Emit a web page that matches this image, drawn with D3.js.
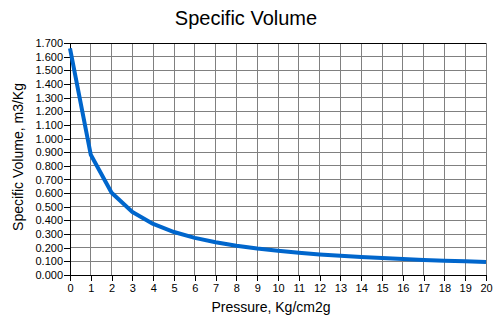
<!DOCTYPE html>
<html><head><meta charset="utf-8">
<script src="https://cdn.jsdelivr.net/npm/d3@7"></script>
<style>body{margin:0;background:#fff}svg{display:block}</style>
</head><body>
<script>
const pressures = [0,1,2,3,4,5,6,7,8,9,10,11,12,13,14,15,16,17,18,19,20];
const specificVolume = [1.660,0.881,0.603,0.461,0.374,0.315,0.272,0.240,0.215,0.194,0.177,0.163,0.151,0.141,0.132,0.124,0.117,0.110,0.105,0.100,0.095];
const yTicks = d3.range(0, 1.7001, 0.1);
const xTicks = d3.range(0, 21, 1);

const W = 498, H = 328;
const m = {l:70, r:12, t:43, b:53};
const svg = d3.select("body").append("svg").attr("width", W).attr("height", H)
  .style("font-family", "Arial, 'Liberation Sans', sans-serif");
svg.append("rect").attr("width", W).attr("height", H).attr("fill", "#fff");

const x = d3.scaleLinear().domain([0,20]).range([m.l, W - m.r]);
const y = d3.scaleLinear().domain([0,1.7]).range([H - m.b, m.t]);

// grid
svg.append("g").selectAll("line").data(xTicks.slice(1)).join("line")
  .attr("x1", d => x(d)).attr("x2", d => x(d)).attr("y1", y(0)).attr("y2", y(1.7))
  .attr("stroke", "#808080").attr("shape-rendering", "crispEdges");
svg.append("g").selectAll("line").data(yTicks.slice(1)).join("line")
  .attr("x1", x(0)).attr("x2", x(20)).attr("y1", d => y(d)).attr("y2", d => y(d))
  .attr("stroke", d => Math.abs(d - 1.7) < 1e-6 ? "#000" : "#808080")
  .attr("shape-rendering", "crispEdges");

// axes
const yAxis = d3.axisLeft(y).tickValues(yTicks).tickFormat(d3.format(".3f")).tickSize(6).tickSizeOuter(0);
const gy = svg.append("g").attr("transform", `translate(${x(0)},0)`).call(yAxis);
gy.selectAll("text").attr("font-size", 11).attr("fill", "#000").attr("x", -7);
gy.selectAll("line,path").attr("stroke", "#000").attr("shape-rendering", "crispEdges");

const xAxis = d3.axisBottom(x).tickValues(xTicks).tickFormat(d3.format("d")).tickSize(6).tickSizeOuter(0);
const gx = svg.append("g").attr("transform", `translate(0,${y(0)})`).call(xAxis);
gx.selectAll("text").attr("font-size", 11).attr("fill", "#000").attr("y", 9);
gx.selectAll("line,path").attr("stroke", "#000").attr("shape-rendering", "crispEdges");

// line
svg.append("path").datum(pressures.map((p,i) => [p, specificVolume[i]]))
  .attr("fill", "none").attr("stroke", "#0066CC").attr("stroke-width", 4)
  .attr("stroke-linejoin", "round")
  .attr("d", d3.line().x(d => x(d[0])).y(d => y(d[1])));

// titles
svg.append("text").attr("x", 246).attr("y", 25).attr("text-anchor", "middle")
  .attr("font-size", 20).text("Specific Volume");
svg.append("text").attr("x", 271).attr("y", 312).attr("text-anchor", "middle")
  .attr("font-size", 14).text("Pressure, Kg/cm2g");
svg.append("text").attr("transform", `translate(23,157) rotate(-90)`)
  .attr("text-anchor", "middle").attr("font-size", 14).text("Specific Volume, m3/Kg");
</script>
</body></html>
